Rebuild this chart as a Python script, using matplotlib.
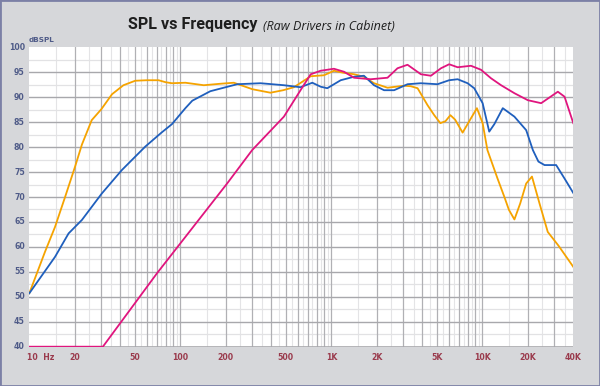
import matplotlib
matplotlib.use("Agg")
import matplotlib.pyplot as plt
from matplotlib.patches import Rectangle
import numpy as np

# ---- data ----
orange_f = [10, 12.7, 14.8, 17.3, 20.1, 22.3, 25.9, 30, 35.3, 42, 50.3, 60, 71.8, 80, 88, 108, 143, 185, 226, 300, 395, 480, 565, 650, 730, 894, 1040, 1200, 1413, 1644, 1917, 2354, 3034, 3357, 3724, 4335, 4800, 5270, 5700, 6140, 6600, 7400, 8300, 9200, 10040, 10800, 12600, 13950, 15000, 16300, 17800, 19500, 21300, 23900, 27100, 32000, 40000]
orange_db = [50.7, 59.0, 64.0, 70.1, 76.1, 80.5, 85.4, 87.6, 90.6, 92.4, 93.3, 93.4, 93.4, 93.0, 92.8, 92.9, 92.4, 92.7, 92.9, 91.6, 90.9, 91.4, 92.0, 93.2, 94.2, 94.4, 95.3, 94.9, 94.6, 94.1, 92.8, 91.9, 92.3, 92.2, 91.8, 88.4, 86.4, 84.8, 85.2, 86.4, 85.5, 82.9, 85.5, 87.8, 84.8, 79.4, 73.7, 70.1, 67.4, 65.5, 68.7, 72.7, 74.1, 68.7, 63.0, 60.2, 56.0]

blue_f = [10, 14.8, 18.2, 22.3, 30.2, 41, 58.6, 75, 88, 108, 120, 158, 238, 340, 485, 625, 748, 850, 940, 1153, 1413, 1644, 1917, 2234, 2603, 3194, 3917, 5047, 6024, 6860, 7980, 8830, 10040, 11100, 12000, 13650, 16300, 19500, 21600, 23500, 25800, 30800, 35000, 40000]
blue_db = [50.7, 58.0, 62.7, 65.4, 70.7, 75.4, 80.1, 82.9, 84.6, 87.8, 89.3, 91.2, 92.6, 92.8, 92.4, 92.0, 92.9, 92.1, 91.8, 93.4, 94.1, 94.3, 92.4, 91.4, 91.4, 92.6, 92.8, 92.6, 93.4, 93.6, 92.8, 91.8, 88.8, 83.1, 84.6, 87.8, 86.1, 83.4, 79.4, 77.1, 76.4, 76.4, 73.7, 70.8]

pink_f = [10, 30.7, 70, 204, 299, 485, 625, 730, 849, 1040, 1213, 1413, 1822, 2354, 2742, 3194, 3917, 4563, 5320, 6024, 6860, 8400, 9790, 11400, 13300, 16300, 20000, 24500, 28300, 31600, 35000, 40000]
pink_db = [40, 40, 54.7, 72.7, 79.4, 86.1, 91.4, 94.6, 95.3, 95.7, 95.1, 93.9, 93.6, 93.9, 95.8, 96.5, 94.6, 94.3, 95.8, 96.6, 96.0, 96.3, 95.5, 93.8, 92.4, 90.8, 89.4, 88.8, 90.1, 91.1, 90.1, 84.8]

x_ticks = [10, 20, 50, 100, 200, 500, 1000, 2000, 5000, 10000, 20000, 40000]
x_labels = ["10  Hz", "20", "50", "100", "200", "500", "1K", "2K", "5K", "10K", "20K", "40K"]
y_ticks = [40, 45, 50, 55, 60, 65, 70, 75, 80, 85, 90, 95, 100]

title_main = "SPL vs Frequency"
title_sub = "(Raw Drivers in Cabinet)"
y_unit = "dBSPL"

# ---- figure ----
W, H = 600, 386
fig = plt.figure(figsize=(W / 100, H / 100), dpi=100)
fig.patch.set_facecolor("#d6d7da")
fig.patches.append(Rectangle((0, 0), 1, 1, transform=fig.transFigure, fill=False,
                             edgecolor="#7c80a6", lw=2.0, zorder=10))

L, R, T, B = 29.3, 573.3, 47.3, 346.7
ax = fig.add_axes([L / W, 1 - B / H, (R - L) / W, (B - T) / H])
ax.set_facecolor("white")
ax.set_xscale("log")
ax.set_xlim(10, 40000)
ax.set_ylim(40, 100)

# grid
for d in [10, 100, 1000, 10000]:
    for k in range(1, 10):
        v = k * d
        if 10 < v < 40000:
            ax.axvline(v, color="#b0b0b4", lw=0.9, zorder=1)
        h = (k + 0.5) * d
        if 10 < h < 40000:
            ax.axvline(h, color="#e4e4e6", lw=0.8, zorder=0.5)
for y in np.arange(42.5, 100, 2.5):
    if abs(y % 5) < 1e-6:
        ax.axhline(y, color="#a8a8ac", lw=1.0, zorder=1)
    else:
        ax.axhline(y, color="#e2e2e4", lw=0.9, zorder=0.5)

for s in ax.spines.values():
    s.set_visible(False)
ax.axhline(40, color="#a8a8ac", lw=1.2, zorder=1)

ax.plot(orange_f, orange_db, color="#f5a300", lw=1.3, zorder=3, solid_joinstyle="round")
ax.plot(blue_f, blue_db, color="#1f5fbd", lw=1.3, zorder=4, solid_joinstyle="round")
ax.plot(pink_f, pink_db, color="#e0157e", lw=1.3, zorder=5, solid_joinstyle="round")

ax.set_xticks([])
ax.set_yticks([])
ax.minorticks_off()

# tick labels
for v, lab in zip(x_ticks, x_labels):
    ha = "left" if lab.startswith("10 ") else "center"
    xx = v if ha == "center" else 9.6
    ax.text(xx, 37.9, lab, ha=ha, va="center", fontsize=5.6, fontweight="bold",
            color="#9a3a4c", family="DejaVu Sans", clip_on=False)
for v in y_ticks:
    ax.text(-4.5 / (R - L), v, str(v), transform=ax.get_yaxis_transform(), ha="right",
            va="center", fontsize=5.6, fontweight="bold", color="#4f5b88",
            family="DejaVu Sans", clip_on=False)

fig.text(29 / W, 1 - 40 / H, y_unit, ha="left", va="center", fontsize=5.2,
         fontweight="bold", color="#4f5b88", family="DejaVu Sans")

fig.text(258 / W, 1 - 29.5 / H, title_main, ha="right", va="baseline", fontsize=11.6,
         fontweight="bold", color="#1e1e1e", family="Roboto")
fig.text(263 / W, 1 - 29.5 / H, title_sub, ha="left", va="baseline", fontsize=9,
         style="italic", color="#1e1e1e", family="Open Sans")

fig.savefig("out.png", dpi=100, facecolor=fig.get_facecolor())
